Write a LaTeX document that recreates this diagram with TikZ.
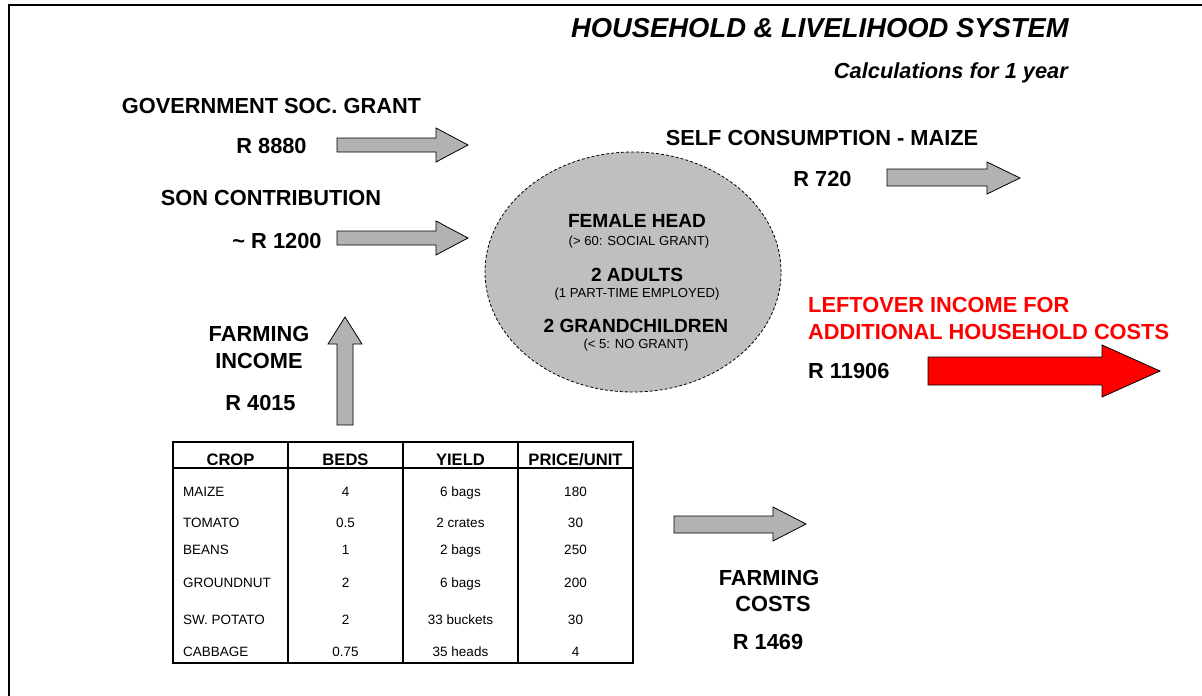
\documentclass[tikz,border=0pt]{standalone}
\usepackage{fontspec}
\setmainfont{Liberation Sans}
\usetikzlibrary{shapes.geometric}
\begin{document}
\begin{tikzpicture}[x=1pt,y=-1pt,
  lbl/.style={font=\fontsize{21.8}{26}\selectfont\bfseries, inner sep=0pt},
  redlbl/.style={lbl, text=red},
  ttl/.style={font=\fontsize{27.4}{32}\selectfont\bfseries\itshape, inner sep=0pt},
  subttl/.style={font=\fontsize{21.8}{26}\selectfont\bfseries\itshape, inner sep=0pt},
  big/.style={font=\fontsize{19.1}{22}\selectfont\bfseries, inner sep=0pt},
  small/.style={font=\fontsize{13.1}{16}\selectfont, inner sep=0pt},
  head/.style={font=\fontsize{16.6}{20}\selectfont\bfseries, inner sep=0pt, anchor=base},
  cell/.style={font=\fontsize{13.5}{16}\selectfont, inner sep=0pt, anchor=base},
  garrow/.style={draw=black, line width=0.8pt, fill=gray!60, line join=miter},
  rarrow/.style={draw=black, line width=0.8pt, fill=red, line join=miter},
  gridline/.style={draw=black, line width=1.2pt}
]
\useasboundingbox (0,0) rectangle (1202,696);

% frame
\draw[line width=2pt] (9,700) -- (9,5) -- (1206,5);

% titles
\node[ttl, anchor=base east] (title) at (1069,37) {HOUSEHOLD \& LIVELIHOOD SYSTEM};
\node[subttl, anchor=base east] (subtitle) at (1068,78) {Calculations for 1 year};

% household
\node[draw=black, dashed, dash pattern=on 3pt off 2pt, line width=0.8pt, fill=gray!50,
      ellipse, minimum width=296, minimum height=240, inner sep=0pt] (hh) at (633,272) {};
\node[big, anchor=base] (fh) at (637,227) {FEMALE HEAD};
\node[small, anchor=base] (fhs) at (639,245) {(> 60: SOCIAL GRANT)};
\node[big, anchor=base] (ad) at (637,281) {2 ADULTS};
\node[small, anchor=base] (ads) at (637,297) {(1 PART-TIME EMPLOYED)};
\node[big, anchor=base] (gc) at (636,332) {2 GRANDCHILDREN};
\node[small, anchor=base] (gcs) at (636,348) {(< 5: NO GRANT)};

% incomes
\node[lbl, anchor=base] (gov) at (271.5,113) {GOVERNMENT SOC. GRANT};
\node[lbl, anchor=base] (govv) at (271.5,153) {R 8880};
\draw[garrow] (337,138) -- (436,138) -- (436,128) -- (468,145) -- (436,162) -- (436,152) -- (337,152) -- cycle;

\node[lbl, anchor=base] (son) at (271,205) {SON CONTRIBUTION};
\node[lbl, anchor=base] (sonv) at (277,248) {\char`\~\ R 1200};
\draw[garrow] (337,231) -- (436,231) -- (436,221) -- (468,238) -- (436,255) -- (436,245) -- (337,245) -- cycle;

\node[lbl, anchor=base] (fi1) at (259,341) {FARMING};
\node[lbl, anchor=base] (fi2) at (259,368) {INCOME};
\node[lbl, anchor=base] (fiv) at (260.5,410) {R 4015};
\draw[garrow] (337,425) -- (337,344) -- (328,344) -- (345,317) -- (362,344) -- (353,344) -- (353,425) -- cycle;

% outgoings
\node[lbl, anchor=base] (self) at (822,145) {SELF CONSUMPTION - MAIZE};
\node[lbl, anchor=base] (selfv) at (822.5,186) {R 720};
\draw[garrow] (887,169) -- (987,169) -- (987,162) -- (1020,178) -- (987,194) -- (987,186) -- (887,186) -- cycle;

\node[redlbl, anchor=base west] (left1) at (808,312) {LEFTOVER INCOME FOR};
\node[redlbl, anchor=base west] (left2) at (808,339) {ADDITIONAL HOUSEHOLD COSTS};
\node[lbl, anchor=base west] (leftv) at (808,378) {R 11906};
\draw[rarrow] (928,357) -- (1102,357) -- (1102,345) -- (1160,371) -- (1102,397) -- (1102,385) -- (928,385) -- cycle;

\node[lbl, anchor=base] (fc1) at (769,585) {FARMING};
\node[lbl, anchor=base] (fc2) at (773,611) {COSTS};
\node[lbl, anchor=base] (fcv) at (768,649) {R 1469};
\draw[garrow] (674,516) -- (773,516) -- (773,507) -- (806,524) -- (773,541) -- (773,533) -- (674,533) -- cycle;

% crop table
\draw[gridline] (173,442) rectangle (633,663);
\draw[gridline] (173,468) -- (633,468);
\foreach \cx in {288,403,518} \draw[gridline] (\cx,442) -- (\cx,663);
\node[head] (hcrop) at (230.5,465) {CROP};
\node[head] (hbeds) at (345.5,465) {BEDS};
\node[head] (hyield) at (460.5,465) {YIELD};
\node[head] (hprice) at (575.5,465) {PRICE/UNIT};
\foreach \c/\b/\yl/\p/\yb [count=\i] in {
  MAIZE/4/6 bags/180/496,
  TOMATO/0.5/2 crates/30/527,
  BEANS/1/2 bags/250/554,
  GROUNDNUT/2/6 bags/200/587,
  SW. POTATO/2/33 buckets/30/624,
  CABBAGE/0.75/35 heads/4/656}{
  \node[cell, anchor=base west] (crop\i) at (183,\yb) {\c};
  \node[cell] (beds\i) at (345.5,\yb) {\b};
  \node[cell] (yield\i) at (460.5,\yb) {\yl};
  \node[cell] (price\i) at (575.5,\yb) {\p};
}
\end{tikzpicture}
\end{document}
